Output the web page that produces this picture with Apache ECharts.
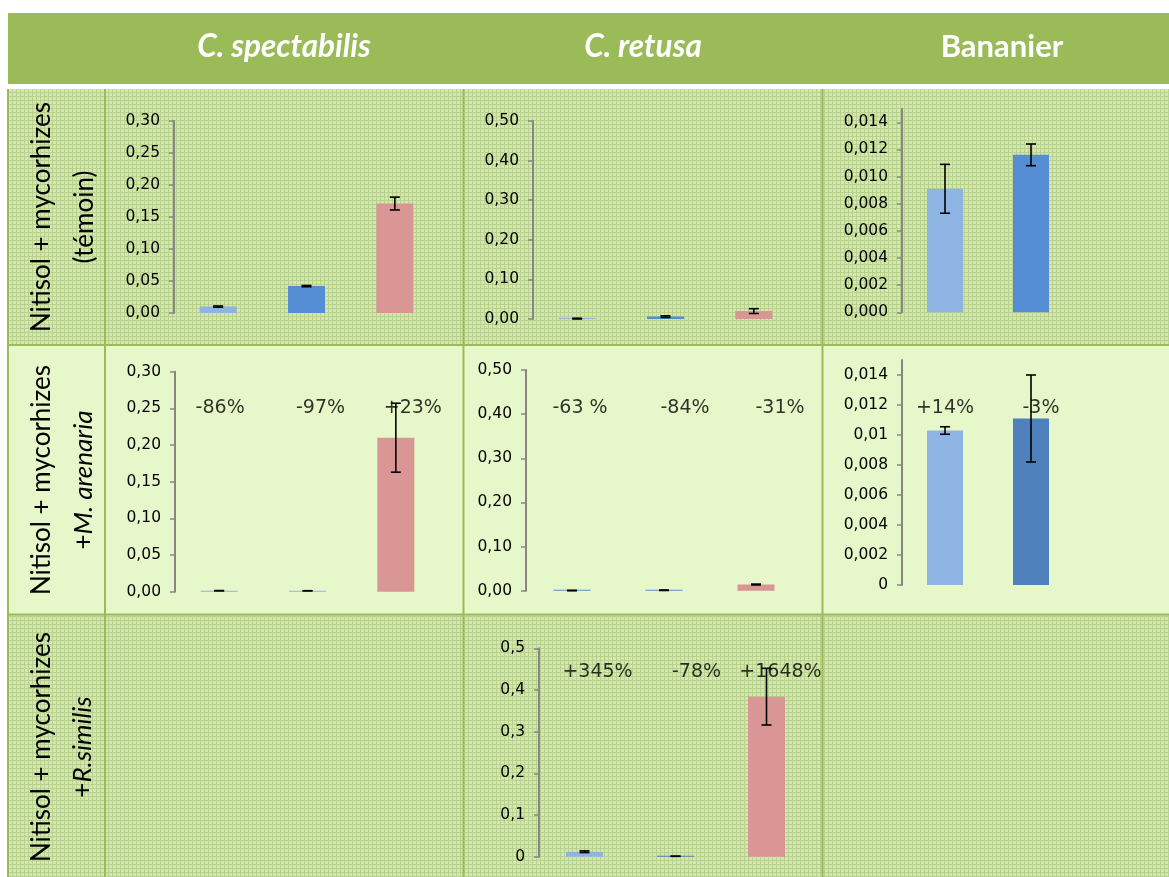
<!DOCTYPE html>
<html>
<head>
<meta charset="utf-8">
<script src="https://cdn.jsdelivr.net/npm/echarts@6/dist/echarts.min.js"></script>
<style>
  html, body { margin: 0; padding: 0; background: #fff; }
  #chart { width: 1169px; height: 877px; }
</style>
</head>
<body>
<div id="chart"></div>
<script>
// bars of each panel (the three hidden categories of the table)
const barsThree = ['1', '2', '3']
const barsTwo = ['1', '2']

// Nitisol + mycorhizes (témoin)
const specTemoin = [0.010, 0.042, 0.171]
const specTemoinErr = [0.001, 0.001, 0.010]
const retusaTemoin = [0.001, 0.006, 0.020]
const retusaTemoinErr = [0.001, 0.002, 0.006]
const bananaTemoin = [0.0091, 0.0116]
const bananaTemoinErr = [0.0018, 0.0008]

// Nitisol + mycorhizes + M. arenaria
const specArenaria = [0.0014, 0.0013, 0.210]
const specArenariaErr = [0, 0, 0.047]
const specArenariaPct = ['-86%', '-97%', '+23%']
const retusaArenaria = [0.0004, 0.001, 0.014]
const retusaArenariaErr = [0.0005, 0.0005, 0.001]
const retusaArenariaPct = ['-63 %', '-84%', '-31%']
const bananaArenaria = [0.0103, 0.0111]
const bananaArenariaErr = [0.00025, 0.0029]
const bananaArenariaPct = ['+14%', '-3%']

// Nitisol + mycorhizes + R. similis
const retusaSimilis = [0.012, 0.001, 0.384]
const retusaSimilisErr = [0.002, 0, 0.068]
const retusaSimilisPct = ['+345%', '-78%', '+1648%']

const columnTitles = ['C. spectabilis', 'C. retusa', 'Bananier']

const lightBlue = '#8DB4E2'
const midBlue = '#558ED5'
const darkBlue = '#4F81BD'
const pink = '#D99694'
const green = '#9BBB59'

const fixedFmt = d => v => v.toFixed(d).replace('.', ',')
const plainFmt = v => String(+v.toFixed(4)).replace('.', ',')

const panels = [
  { grid: { left: 174, top: 121, width: 265, height: 192 }, cats: barsThree, max: 0.3, interval: 0.05, fmt: fixedFmt(2),
    values: specTemoin, errors: specTemoinErr, colors: [lightBlue, midBlue, pink], barWidth: 37 },
  { grid: { left: 533, top: 121, width: 265, height: 198 }, cats: barsThree, max: 0.5, interval: 0.1, fmt: fixedFmt(2),
    values: retusaTemoin, errors: retusaTemoinErr, colors: [lightBlue, midBlue, pink], barWidth: 37 },
  { grid: { left: 902, top: 108.7, width: 172, height: 203.6 }, cats: barsTwo, max: 0.015, interval: 0.002, fmt: fixedFmt(3),
    values: bananaTemoin, errors: bananaTemoinErr, colors: [lightBlue, midBlue], barWidth: 36 },
  { grid: { left: 175, top: 371.7, width: 265, height: 220 }, cats: barsThree, max: 0.3, interval: 0.05, fmt: fixedFmt(2),
    values: specArenaria, errors: specArenariaErr, colors: [lightBlue, lightBlue, pink], barWidth: 37,
    pct: specArenariaPct, pctY: 0.25, pctDx: [1, 13, 17] },
  { grid: { left: 526, top: 370, width: 276, height: 220.7 }, cats: barsThree, max: 0.5, interval: 0.1, fmt: fixedFmt(2),
    values: retusaArenaria, errors: retusaArenariaErr, colors: [midBlue, midBlue, pink], barWidth: 37,
    pct: retusaArenariaPct, pctY: 0.413, pctDx: [8, 21, 24] },
  { grid: { left: 902, top: 360, width: 172, height: 225 }, cats: barsTwo, max: 0.015, interval: 0.002, fmt: plainFmt,
    values: bananaArenaria, errors: bananaArenariaErr, colors: [lightBlue, darkBlue], barWidth: 36,
    pct: bananaArenariaPct, pctY: 0.0118, pctDx: [0, 10] },
  { grid: { left: 539, top: 648.3, width: 273, height: 208.4 }, cats: barsThree, max: 0.5, interval: 0.1, fmt: plainFmt,
    values: retusaSimilis, errors: retusaSimilisErr, colors: [lightBlue, darkBlue, pink], barWidth: 37,
    pct: retusaSimilisPct, pctY: 0.442, pctDx: [13, 21, 14] }
]

function makeHatch() {
  const c = document.createElement('canvas')
  c.width = 4
  c.height = 4
  const g = c.getContext('2d')
  g.fillStyle = '#D3E7B0'
  g.fillRect(0, 0, 4, 4)
  g.fillStyle = '#B8D28E'
  g.fillRect(0, 0, 4, 1)
  g.fillRect(0, 0, 1, 4)
  return c
}
const hatch = { image: makeHatch(), repeat: 'repeat' }

const grids = []
const xAxes = []
const yAxes = []
const series = []

panels.forEach((p, i) => {
  grids.push(Object.assign({ containLabel: false }, p.grid))
  xAxes.push({ type: 'category', gridIndex: i, data: p.cats, show: false })
  const tickVals = []
  for (let v = 0; v <= p.max + 1e-9; v += p.interval) {
    if (v <= p.max - p.interval * 0.4 || Math.abs(v - p.max) < 1e-9) tickVals.push(+v.toFixed(4))
  }
  yAxes.push({
    type: 'value', gridIndex: i, min: 0, max: p.max, interval: p.interval,
    splitLine: { show: false },
    axisLine: { show: true, lineStyle: { color: '#868686', width: 2 } },
    axisTick: { show: true, length: 5, customValues: tickVals, lineStyle: { color: '#868686', width: 1.5 } },
    axisLabel: {
      margin: 14, color: '#000', fontSize: 15.5, fontFamily: 'DejaVu Sans',
      customValues: tickVals,
      formatter: v => (v > p.max - p.interval * 0.4 && Math.abs(v - p.max) > 1e-9) ? '' : (tickVals.indexOf(+v.toFixed(4)) < 0 ? '' : p.fmt(v))
    }
  })
  series.push({
    type: 'bar', xAxisIndex: i, yAxisIndex: i, barWidth: p.barWidth, barMinHeight: 1,
    data: p.values.map((v, k) => ({ value: v, itemStyle: { color: p.colors[k] } })),
    z: 2
  })
  series.push({
    type: 'custom', xAxisIndex: i, yAxisIndex: i, z: 5,
    data: p.values.map((v, k) => [k, v - p.errors[k], v + p.errors[k]]),
    renderItem: (params, api) => {
      const lo = api.coord([api.value(0), api.value(1)])
      const hi = api.coord([api.value(0), api.value(2)])
      const x = lo[0]
      const w = 5
      const st = { stroke: '#000', lineWidth: 1.6 }
      return {
        type: 'group',
        children: [
          { type: 'line', shape: { x1: x, y1: lo[1], x2: x, y2: hi[1] }, style: st },
          { type: 'line', shape: { x1: x - w, y1: lo[1], x2: x + w, y2: lo[1] }, style: st },
          { type: 'line', shape: { x1: x - w, y1: hi[1], x2: x + w, y2: hi[1] }, style: st }
        ]
      }
    }
  })
  if (p.pct) {
    series.push({
      type: 'scatter', xAxisIndex: i, yAxisIndex: i, symbolSize: 0, z: 6,
      data: p.pct.map((t, k) => ({
        value: [k, p.pctY], name: t,
        label: { offset: [p.pctDx[k], 0] }
      })),
      label: {
        show: true, position: 'inside', formatter: '{b}',
        color: '#000', fontSize: 19, fontFamily: 'DejaVu Sans'
      }
    })
  }
})

const rowFont = '26px Lato'
const rowLabel = (cx, cy, second, italicPart) => [
  {
    type: 'text', x: 42, y: cy, rotation: Math.PI / 2, z: 10,
    style: { text: 'Nitisol + mycorhizes', fill: '#000', font: rowFont, align: 'center', verticalAlign: 'middle' }
  },
  {
    type: 'text', x: cx, y: cy, rotation: Math.PI / 2, z: 10,
    style: italicPart
      ? { text: '{n|+}{i|' + second + '}', fill: '#000', font: rowFont, align: 'center', verticalAlign: 'middle',
          rich: { n: { fontSize: 26, fontFamily: 'Lato' }, i: { fontSize: 26, fontFamily: 'Lato', fontStyle: 'italic' } } }
      : { text: second, fill: '#000', font: rowFont, align: 'center', verticalAlign: 'middle' }
  }
]

const borderLine = (x1, y1, x2, y2) => ({
  type: 'line', z: 1, shape: { x1, y1, x2, y2 }, style: { stroke: green, lineWidth: 2 }
})

const graphic = [
  { type: 'rect', z: -10, shape: { x: 8, y: 13, width: 1161, height: 71 }, style: { fill: green } },
  { type: 'rect', z: -10, shape: { x: 8, y: 89, width: 1161, height: 256 }, style: { fill: hatch } },
  { type: 'rect', z: -10, shape: { x: 8, y: 345, width: 1161, height: 269 }, style: { fill: '#E6F8C9' } },
  { type: 'rect', z: -10, shape: { x: 8, y: 614, width: 1161, height: 263 }, style: { fill: hatch } },
  borderLine(8, 89, 8, 877),
  borderLine(105, 89, 105, 877),
  borderLine(463.5, 89, 463.5, 877),
  borderLine(822.5, 89, 822.5, 877),
  borderLine(8, 345, 1169, 345),
  borderLine(8, 614.5, 1169, 614.5),
  { type: 'text', x: 284, y: 47, z: 10, style: { text: columnTitles[0], fill: '#fff', font: 'italic bold 31.5px Lato', align: 'center', verticalAlign: 'middle' } },
  { type: 'text', x: 643, y: 47, z: 10, style: { text: columnTitles[1], fill: '#fff', font: 'italic bold 31.5px Lato', align: 'center', verticalAlign: 'middle' } },
  { type: 'text', x: 1002, y: 47, z: 10, style: { text: columnTitles[2], fill: '#fff', font: 'bold 31px Lato', align: 'center', verticalAlign: 'middle' } }
].concat(
  rowLabel(85, 217, '(témoin)', false),
  rowLabel(84, 480, 'M. arenaria', true),
  rowLabel(83, 747, 'R.similis', true)
)

const chart = echarts.init(document.getElementById('chart'))
chart.setOption({
  animation: false,
  backgroundColor: '#fff',
  graphic: graphic,
  grid: grids,
  xAxis: xAxes,
  yAxis: yAxes,
  series: series
})
</script>
</body>
</html>
